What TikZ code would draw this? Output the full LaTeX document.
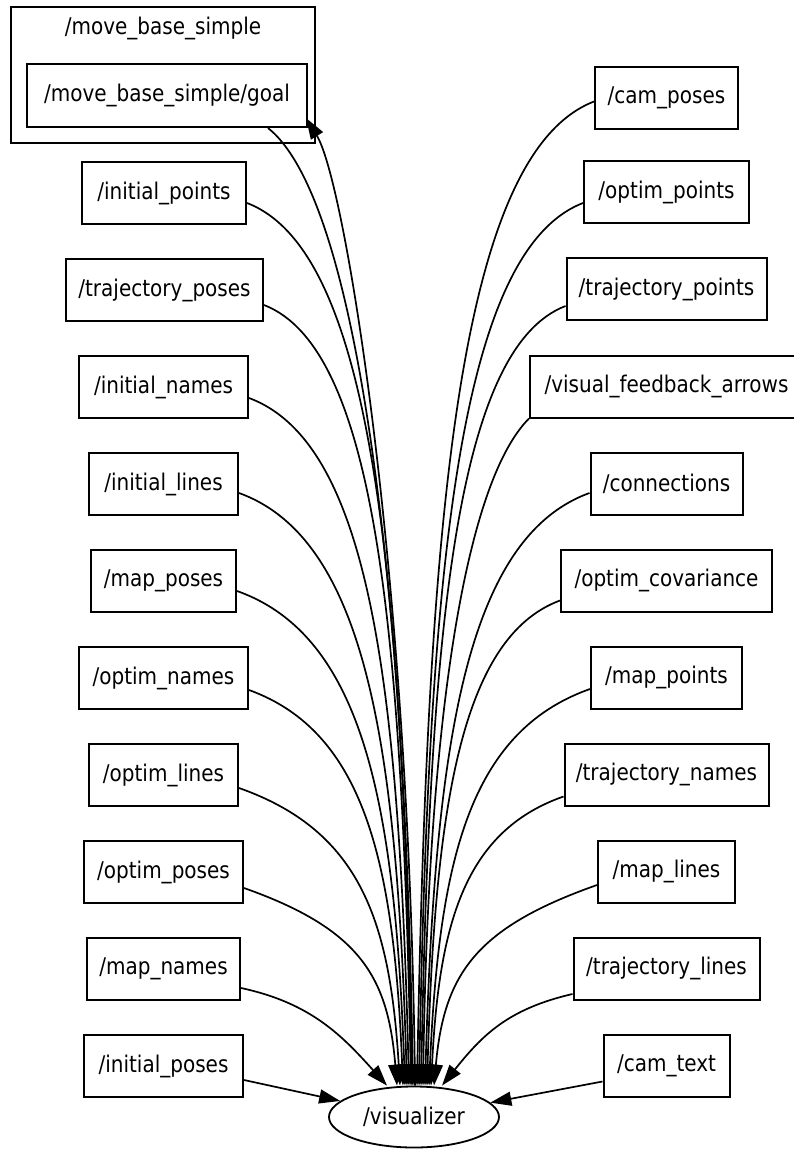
\documentclass[tikz,border=0pt]{standalone}
\usepackage{fontspec}
\setmainfont{DejaVu Sans}[FakeStretch=0.87]
\usetikzlibrary{arrows.meta,shapes.geometric}
\begin{document}
\begin{tikzpicture}[x=1pt,y=-1pt,
  lbl/.style={font=\fontsize{23}{27}\selectfont},
  topic/.style={lbl,draw,line width=2pt,minimum height=62pt,inner sep=0pt},
  edge/.style={line width=1.7pt,-{Triangle[length=21pt,width=14pt]}}]
\useasboundingbox (0,0) rectangle (793,1149);

% cluster around the goal topic
\node[draw,line width=2pt,minimum width=304pt,minimum height=136pt,inner sep=0pt] (cl) at (163,75) {};
\node[lbl] (cltitle) at (163,28) {/move\_base\_simple};
\node[topic,minimum width=280pt,minimum height=63pt] (goal) at (167,95.5) {/move\_base\_simple/goal};

% left column
\node[topic,minimum width=164pt] (ip)  at (164,193)   {/initial\_points};
\node[topic,minimum width=197pt] (tp)  at (164.5,290) {/trajectory\_poses};
\node[topic,minimum width=169pt] (in)  at (163.5,387) {/initial\_names};
\node[topic,minimum width=149pt] (il)  at (163.5,484) {/initial\_lines};
\node[topic,minimum width=145pt] (mp)  at (163.5,581) {/map\_poses};
\node[topic,minimum width=169pt] (on)  at (163.5,678) {/optim\_names};
\node[topic,minimum width=149pt] (ol)  at (163.5,775) {/optim\_lines};
\node[topic,minimum width=159pt] (op)  at (163.5,872) {/optim\_poses};
\node[topic,minimum width=153pt] (mn)  at (163.5,969) {/map\_names};
\node[topic,minimum width=159pt] (ips) at (163.5,1066) {/initial\_poses};

% right column
\node[topic,minimum width=143pt] (cp)  at (666.5,97.5)  {/cam\_poses};
\node[topic,minimum width=165pt] (opt) at (666.5,192)   {/optim\_points};
\node[topic,minimum width=200pt] (tpt) at (666.5,289)   {/trajectory\_points};
\node[topic,minimum width=273pt] (vfa) at (666.5,386.5) {/visual\_feedback\_arrows};
\node[topic,minimum width=152pt] (con) at (666.5,483.5) {/connections};
\node[topic,minimum width=211pt] (oc)  at (666.5,580.5) {/optim\_covariance};
\node[topic,minimum width=151pt] (mpt) at (666.5,677.5) {/map\_points};
\node[topic,minimum width=204pt] (tn)  at (666.5,774.5) {/trajectory\_names};
\node[topic,minimum width=137pt] (ml)  at (666.5,871.5) {/map\_lines};
\node[topic,minimum width=186pt] (tl)  at (666.5,968.5) {/trajectory\_lines};
\node[topic,minimum width=126pt] (ct)  at (666.5,1065.5) {/cam\_text};

% the node all topics feed
\node[lbl,draw,line width=1.8pt,ellipse,minimum width=170pt,minimum height=61pt,inner sep=0pt] (vis) at (414,1117) {/visualizer};

% goal topic: published and subscribed
\draw[edge] ([xshift=1pt]vis.north) .. controls +(-5,-500) and +(40,65) .. ([shift={(-2,-10)}]goal.south east);
\draw[edge] ([xshift=101pt]goal.south) .. controls +(92,73) and +(-8,-487) .. ([xshift=-1pt]vis.north);

% left column into the visualizer
\draw[edge] ([yshift=-10pt]ip.east) .. controls +(125,48) and +(-10,-520) .. ([xshift=-2pt]vis.north);
\draw[edge] ([yshift=-15pt]tp.east) .. controls +(111,43) and +(-9,-460) .. ([xshift=-3pt]vis.north);
\draw[edge] ([yshift=-11pt]in.east) .. controls +(121,45) and +(-10,-400) .. ([xshift=-5pt]vis.north);
\draw[edge] ([yshift=-9pt]il.east) .. controls +(127,46) and +(-10,-340) .. ([xshift=-7pt]vis.north);
\draw[edge] ([yshift=-10pt]mp.east) .. controls +(127,45) and +(-10,-280) .. ([xshift=-9pt]vis.north);
\draw[edge] ([yshift=-12pt]on.east) .. controls +(116,42) and +(-9,-222) .. ([xshift=-11pt]vis.north);
\draw[edge] ([yshift=-13pt]ol.east) .. controls +(122,43) and +(-10,-164) .. ([xshift=-14pt]vis.north);
\draw[edge] ([yshift=-16pt]op.east) .. controls +(116,41) and +(-9,-109) .. ([xshift=-17pt]vis.north);
\draw[edge] ([yshift=-19pt]mn.east) .. controls +(70,15) and +(-45,-50) .. ([xshift=-27pt]vis.north);
\draw[edge] ([yshift=-14pt]ips.east) -- (vis);

% right column into the visualizer
\draw[edge] ([yshift=-4pt]cp.west) .. controls +(-134,52) and +(11,-580) .. ([xshift=3pt]vis.north);
\draw[edge] ([yshift=-11pt]opt.west) .. controls +(-124,48) and +(10,-520) .. ([xshift=5pt]vis.north);
\draw[edge] ([yshift=-17pt]tpt.west) .. controls +(-109,42) and +(9,-460) .. ([xshift=7pt]vis.north);
\draw[edge] (vfa.south west) .. controls +(-60,60) and +(6,-390) .. ([xshift=9pt]vis.north);
\draw[edge] ([yshift=-9.5pt]con.west) .. controls +(-124,45) and +(10,-340) .. ([xshift=11pt]vis.north);
\draw[edge] ([yshift=-20pt]oc.west) .. controls +(-100,37) and +(8,-275) .. ([xshift=13pt]vis.north);
\draw[edge] ([yshift=-11.5pt]mpt.west) .. controls +(-122,43) and +(10,-222) .. ([xshift=15pt]vis.north);
\draw[edge] ([yshift=-22pt]tn.west) .. controls +(-100,35) and +(8,-160) .. ([xshift=17pt]vis.north);
\draw[edge] ([yshift=-13.5pt]ml.west) .. controls +(-122,43) and +(10,-111) .. ([xshift=20pt]vis.north);
\draw[edge] ([yshift=-25.5pt]tl.west) .. controls +(-65,15) and +(40,-50) .. ([xshift=28pt]vis.north);
\draw[edge] ([yshift=-16pt]ct.west) -- (vis);
\end{tikzpicture}
\end{document}
